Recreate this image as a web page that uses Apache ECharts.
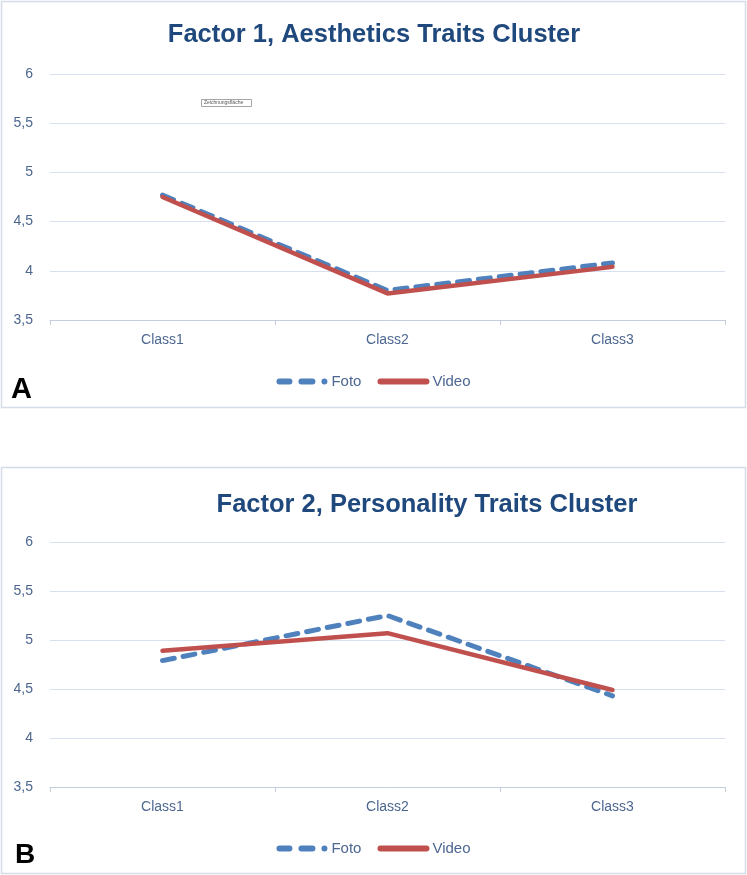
<!DOCTYPE html>
<html><head><meta charset="utf-8">
<script src="https://cdn.jsdelivr.net/npm/echarts@6/dist/echarts.min.js"></script>
<style>html,body{margin:0;padding:0;background:#fff}#c{width:747px;height:875px}</style>
</head><body><div id="c"></div>
<script>
const categories = ['Class1', 'Class2', 'Class3'];
const fotoA = [4.77, 3.80, 4.08];
const videoA = [4.75, 3.77, 4.04];
const fotoB = [4.79, 5.25, 4.43];
const videoB = [4.89, 5.07, 4.49];
const titleA = 'Factor 1, Aesthetics Traits Cluster';
const titleB = 'Factor 2, Personality Traits Cluster';
const yTicks = ['3,5', '4', '4,5', '5', '5,5', '6'];

const FONT = '"Liberation Sans", Arial, sans-serif';
const LBL = '#4D6790';
const BLUE = '#4F81BD', RED = '#C0504D';

function pill(x0, x1) {
  const r = 3, w = x1 - x0 - 2 * r;
  return 'M' + (x0 + r) + ',0h' + w + 'a3,3 0 0 1 0,6h-' + w + 'a3,3 0 0 1 0,-6z';
}
const fotoIcon = 'path://' + pill(0, 16) + pill(22, 39) + pill(45, 51) + 'M52,0h0.01v6h-0.01z';
const videoIcon = 'path://' + pill(0, 52);

function yAxis(gi) {
  return {
    type: 'value', gridIndex: gi, min: 3.5, max: 6, interval: 0.5,
    axisLine: {show: false}, axisTick: {show: false},
    splitLine: {lineStyle: {color: '#D6E0EE', width: 1}},
    axisLabel: {color: LBL, fontFamily: FONT, fontSize: 14, margin: 17,
      formatter: v => yTicks[Math.round((v - 3.5) / 0.5)]}
  };
}
function xAxis(gi) {
  return {
    type: 'category', gridIndex: gi, data: categories, boundaryGap: true,
    axisLine: {lineStyle: {color: '#C4CEDC', width: 1}},
    axisTick: {show: true, length: 5, lineStyle: {color: '#C4CEDC'}},
    axisLabel: {color: LBL, fontFamily: FONT, fontSize: 14, margin: 13}
  };
}
function ser(name, data, gi, dashed) {
  return {
    name, type: 'line', data, xAxisIndex: gi, yAxisIndex: gi,
    symbol: 'none', showSymbol: false, smooth: false,
    lineStyle: dashed ? {color: BLUE, width: 5, type: [12, 9], cap: 'round'}
                      : {color: RED, width: 4.5, cap: 'round'},
    itemStyle: {color: dashed ? BLUE : RED},
    z: dashed ? 2 : 3
  };
}
const titleStyle = {color: '#1F497D', fontFamily: FONT, fontSize: 25.5, fontWeight: 'bold'};
const legendBase = {
  data: [{name: 'Foto', icon: fotoIcon}, {name: 'Video', icon: videoIcon}],
  left: 'center', itemWidth: 52, itemHeight: 6, itemGap: 16,
  textStyle: {color: LBL, fontFamily: FONT, fontSize: 15, padding: [0, 0, 0, -2]}
};
const chart = echarts.init(document.getElementById('c'));
chart.setOption({
  animation: false,
  title: [
    {text: titleA, left: 369, top: 17, textAlign: 'center', textStyle: titleStyle},
    {text: titleB, left: 422, top: 487, textAlign: 'center', textStyle: titleStyle}
  ],
  grid: [
    {left: 50, right: 22, top: 74, height: 246},
    {left: 50, right: 22, top: 542, height: 245}
  ],
  xAxis: [xAxis(0), xAxis(1)],
  yAxis: [yAxis(0), yAxis(1)],
  legend: [
    Object.assign({}, legendBase, {top: 369}),
    Object.assign({}, legendBase, {top: 836})
  ],
  series: [
    ser('Foto', fotoA, 0, true), ser('Video', videoA, 0, false),
    ser('Foto', fotoB, 1, true), ser('Video', videoB, 1, false)
  ],
  graphic: [
    {type: 'rect', shape: {x: 1.5, y: 1.5, width: 744, height: 406}, style: {fill: 'none', stroke: '#D3DCE8', lineWidth: 1.5}, silent: true},
    {type: 'rect', shape: {x: 1.5, y: 467.5, width: 744, height: 406}, style: {fill: 'none', stroke: '#D3DCE8', lineWidth: 1.5}, silent: true},
    {type: 'text', left: 11, top: 375, style: {text: 'A', font: 'bold 29px "Liberation Sans", Arial, sans-serif', fill: '#000'}},
    {type: 'text', left: 15, top: 841, style: {text: 'B', font: 'bold 28px "Liberation Sans", Arial, sans-serif', fill: '#000'}},
    {type: 'rect', shape: {x: 201.5, y: 99.5, width: 50, height: 7}, style: {fill: '#fff', stroke: '#A6A6A6', lineWidth: 1}, silent: true},
    {type: 'text', left: 204, top: 100, style: {text: 'Zeichnungsfläche', font: '5px "Liberation Sans", sans-serif', fill: '#555'}}
  ]
});
</script></body></html>
